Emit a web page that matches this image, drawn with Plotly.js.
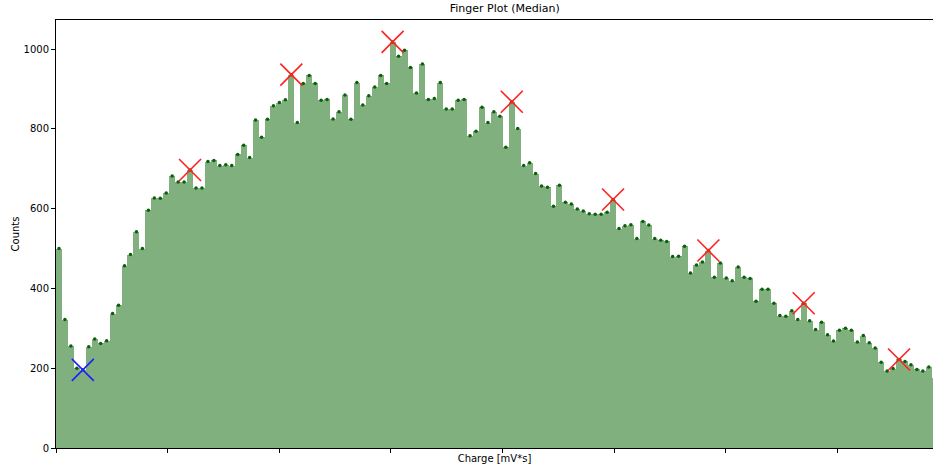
<!DOCTYPE html>
<html>
<head>
<meta charset="utf-8">
<script src="https://cdn.plot.ly/plotly-3.0.1.min.js"></script>
<style>html,body{margin:0;padding:0;background:#fff}#chart{width:933px;height:469px}</style>
</head>
<body>
<div id="chart"></div>
<script>
// Histogram counts per charge bin, left to right
const counts = [
  500, 322, 256, 200, 196, 254, 273, 262, 269, 337,
  358, 457, 485, 542, 500, 596, 627, 626, 639, 682,
  667, 667, 697, 652, 652, 718, 721, 708, 710, 708,
  736, 759, 728, 822, 779, 824, 858, 866, 873, 936,
  816, 914, 934, 914, 872, 874, 825, 843, 885, 824,
  916, 860, 883, 905, 934, 914, 1018, 982, 997, 954,
  890, 963, 874, 876, 916, 850, 850, 872, 874, 783,
  794, 854, 816, 843, 832, 754, 868, 801, 708, 715,
  688, 657, 654, 606, 659, 616, 612, 599, 594, 587,
  586, 586, 591, 623, 550, 557, 560, 525, 568, 559,
  525, 521, 518, 480, 481, 506, 439, 459, 466, 495,
  428, 464, 426, 419, 454, 428, 425, 368, 398, 398,
  363, 332, 330, 344, 322, 363, 319, 297, 315, 284,
  268, 295, 300, 295, 266, 282, 264, 251, 215, 193,
  199, 222, 217, 209, 197, 193, 203, 175
];
// Bin indices of the detected finger peaks (red) and the pedestal valley (blue)
const peakBins = [22, 39, 56, 76, 93, 109, 125, 141];
const valleyBins = [4];

const binCenters = counts.map((_, i) => i + 0.5);
const tickStep = 18.74; // major tick spacing in bins (unlabelled axis)
const tickVals = Array.from({ length: 8 }, (_, k) => k * tickStep);

const traces = [
  { type: "bar", x: binCenters, y: counts, width: 1, marker: { color: "#80b07e", line: { width: 0 } }, hoverinfo: "skip" },
  { type: "scatter", mode: "markers", x: binCenters, y: counts, marker: { color: "#0b5e0b", size: 3.5 } },
  { type: "scatter", mode: "markers", x: peakBins.map((b) => binCenters[b]), y: peakBins.map((b) => counts[b]),
    marker: { symbol: "x-thin", size: 22, line: { color: "#ff2020", width: 1.6 } } },
  { type: "scatter", mode: "markers", x: valleyBins.map((b) => binCenters[b]), y: valleyBins.map((b) => counts[b]),
    marker: { symbol: "x-thin", size: 22, line: { color: "#2020ff", width: 1.6 } } },
];

const layout = {
  width: 933, height: 469,
  paper_bgcolor: "#fff", plot_bgcolor: "#fff",
  font: { family: "DejaVu Sans, sans-serif", size: 10, color: "#000" },
  margin: { l: 56, r: 0, t: 20, b: 21 },
  showlegend: false,
  bargap: 0,
  title: { text: "Finger Plot (Median)", x: 0.541, y: 0.99, yanchor: "top", font: { size: 11 } },
  xaxis: {
    range: [0, 147.2], tickvals: tickVals, ticktext: tickVals.map(() => ""),
    ticks: "outside", ticklen: 4, tickcolor: "#000", showgrid: false, zeroline: false,
    showline: true, linecolor: "#000", mirror: true,
    title: { text: "Charge [mV*s]", standoff: 0, font: { size: 10 } },
  },
  yaxis: {
    range: [0, 1073], tickvals: [0, 200, 400, 600, 800, 1000],
    ticks: "outside", ticklen: 4, tickcolor: "#000", showgrid: false, zeroline: false,
    showline: true, linecolor: "#000", mirror: true,
    title: { text: "Counts", standoff: 2, font: { size: 10 } },
  },
};

Plotly.newPlot("chart", traces, layout, { displayModeBar: false });
</script>
</body>
</html>
